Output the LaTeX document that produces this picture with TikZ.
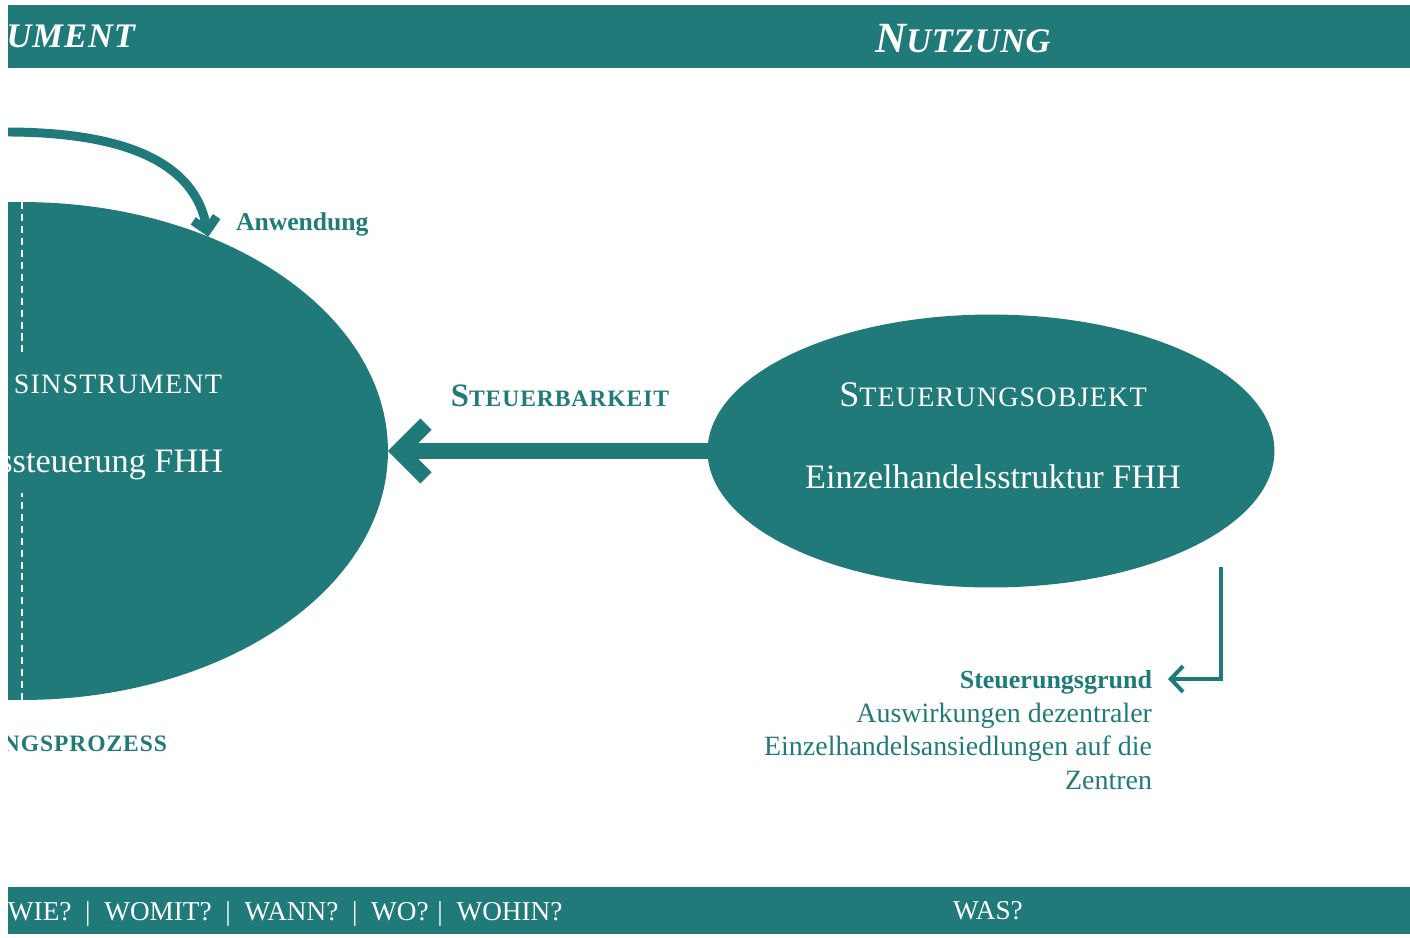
\documentclass[tikz,border=0pt]{standalone}
\usepackage{fontspec}
\setmainfont{Liberation Serif}
\usetikzlibrary{arrows.meta,shapes.geometric}
\definecolor{petrol}{HTML}{217A7A}
% faked small capitals: first letter full size, the rest set smaller and tracked
\newcommand{\kleinkap}[3][4]{{\fontsize{#3}{#3}\selectfont\addfontfeature{LetterSpace=#1}#2}}
\newcommand{\kapit}[3]{#1\kleinkap{#2}{#3}}
\newcommand{\trenner}{\hspace{7.8pt}|\hspace{7.8pt}}
\begin{document}
\begin{tikzpicture}[x=0.02cm,y=-0.02cm,
  blob/.style={ellipse,fill=petrol,draw=none,inner sep=0pt,outer sep=0pt},
  lbl/.style={inner sep=0pt,outer sep=0pt},
  axis/.style={draw=white,line width=1.2pt,dash pattern=on 4pt off 2.8pt},
  bar/.style={fill=petrol},
  flow/.style={draw=petrol,line join=miter}]
\useasboundingbox (0,0) rectangle (1410,937);
\begin{scope}
\clip (8,0) rectangle (1410,937);
% header and footer bands
\fill[bar] (8,5) rectangle (1410,68);
\fill[bar] (8,887) rectangle (1410,934);
\node[lbl,anchor=base east,text=white,font=\fontsize{24.5}{28}\selectfont\bfseries\itshape] (hinst) at (135,47) {\kleinkap[3]{UMENT}{19.6pt}};
\node[lbl,anchor=base,text=white,font=\fontsize{24.5}{28}\selectfont\bfseries\itshape] (hnutz) at (963,52) {N\kleinkap[1.5]{UTZUNG}{19.6pt}};
\node[lbl,anchor=base west,text=white,font=\fontsize{15.5}{18}\selectfont] (fq) at (8,920) {WIE?\trenner WOMIT?\trenner WANN?\trenner WO?\hspace{5pt}|\hspace{7.8pt}WOHIN?};
\node[lbl,anchor=base,text=white,font=\fontsize{15.5}{18}\selectfont] (fwas) at (988,919) {WAS?};
% the two ellipses
\node[blob,minimum width=14.64cm,minimum height=9.96cm] (inst) at (22,451) {};
\node[blob,minimum width=11.34cm,minimum height=5.46cm] (obj) at (991,451) {};
\draw[axis] (inst.north) -- ++(0,150);
\draw[axis] (inst.south) -- ++(0,-207);
% texts inside the ellipses
\node[lbl,anchor=base east,text=white,font=\fontsize{20.5}{24}\selectfont] (instcap) at (222,393) {\kleinkap{SINSTRUMENT}{16pt}};
\node[lbl,anchor=base east,text=white,font=\fontsize{19.5}{24}\selectfont] (instname) at (223,472) {ssteuerung FHH};
\node[lbl,anchor=base,text=white,font=\fontsize{20.5}{24}\selectfont] (objcap) at (993,406) {\kapit{S}{TEUERUNGSOBJEKT}{16pt}};
\node[lbl,anchor=base,text=white,font=\fontsize{19.5}{24}\selectfont] (objname) at (993,488) {Einzelhandelsstruktur FHH};
% labels outside
\node[lbl,anchor=base,text=petrol,font=\fontsize{18.6}{22}\selectfont\bfseries] (bark) at (560,406) {\kapit{S}{TEUERBARKEIT}{13.4pt}};
\node[lbl,anchor=base west,text=petrol,font=\fontsize{14.6}{18}\selectfont\bfseries] (anw) at (236,230) {Anwendung};
\node[lbl,anchor=base east,text=petrol,font=\fontsize{18.6}{22}\selectfont\bfseries] (proz) at (167,751) {\kleinkap{NGSPROZESS}{13.4pt}};
\node[lbl,anchor=base east,text=petrol,font=\fontsize{14.8}{18}\selectfont\bfseries] (grund) at (1152,688) {Steuerungsgrund};
\node[lbl,anchor=base east,text=petrol,font=\fontsize{15.9}{19}\selectfont] (grund1) at (1152,722) {Auswirkungen dezentraler};
\node[lbl,anchor=base east,text=petrol,font=\fontsize{15.9}{19}\selectfont] (grund2) at (1152,755.5) {Einzelhandelsansiedlungen auf die};
\node[lbl,anchor=base east,text=petrol,font=\fontsize{15.9}{19}\selectfont] (grund3) at (1152,789) {Zentren};
% connectors
\draw[flow,line width=9.07pt,-{Straight Barb[length=15.3pt,width=30.6pt]}] (obj.west) -- (inst.east);
\coordinate (anwstart) at (0,132);
\draw[flow,line width=5.1pt,-{Straight Barb[length=6.8pt,width=13.6pt]}] (anwstart) .. controls (130,131) and (195,165) .. (inst.49.7);
\coordinate (grundstart) at (1221,567);
\coordinate (grundend) at (1168,679);
\draw[flow,line width=2.27pt,-{Straight Barb[length=7pt,width=14.7pt]}] (grundstart) |- (grundend);
\end{scope}
\end{tikzpicture}
\end{document}
